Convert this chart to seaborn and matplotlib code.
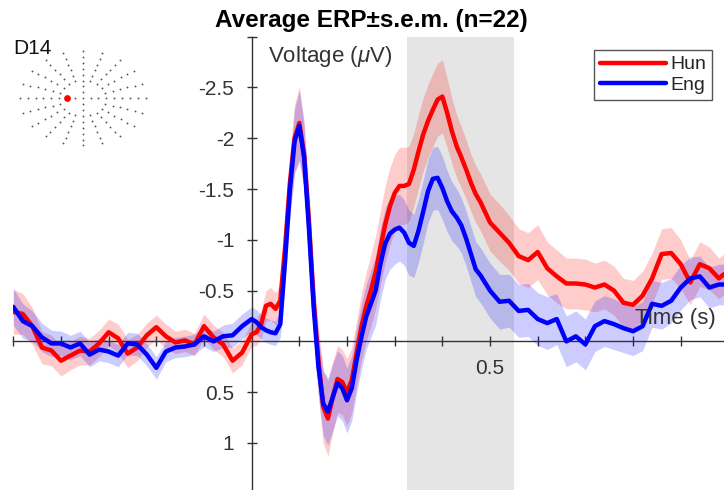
import matplotlib
matplotlib.use("Agg")
import matplotlib.pyplot as plt
from matplotlib.lines import Line2D
import numpy as np
import pandas as pd
import seaborn as sns

# ---- data (time in s, voltage in uV) ----
time_s = [
    -0.50, -0.48, -0.46, -0.44, -0.42, -0.40, -0.38, -0.36, -0.34, -0.32,
    -0.30, -0.28, -0.26, -0.24, -0.22, -0.20, -0.18, -0.16, -0.14, -0.12,
    -0.10, -0.08, -0.06, -0.04, -0.02, 0.00,
    0.01, 0.02, 0.03, 0.04, 0.05, 0.06, 0.07, 0.08, 0.09, 0.10,
    0.11, 0.12, 0.13, 0.14, 0.15, 0.16, 0.17, 0.18, 0.19, 0.20,
    0.21, 0.22, 0.23, 0.24, 0.25, 0.26, 0.27, 0.28, 0.29, 0.30,
    0.31, 0.32, 0.33, 0.34, 0.35, 0.36, 0.37, 0.38, 0.39, 0.40,
    0.41, 0.42, 0.43, 0.44, 0.45, 0.46, 0.47, 0.48,
    0.50, 0.52, 0.54, 0.56, 0.58, 0.60, 0.62, 0.64, 0.66, 0.68,
    0.70, 0.72, 0.74, 0.76, 0.78, 0.80, 0.82, 0.84, 0.86, 0.88,
    0.90, 0.92, 0.94, 0.96, 0.98, 0.99,
]

hun_mean = [
    -0.29, -0.27, -0.15, 0.06, 0.09, 0.19, 0.14, 0.09, 0.10, 0.02,
    -0.09, -0.03, 0.12, 0.06, -0.06, -0.14, -0.05, 0.01, -0.01, 0.03,
    -0.15, -0.04, 0.03, 0.19, 0.11, -0.07,
    -0.09, -0.17, -0.35, -0.37, -0.32, -0.40, -0.92, -1.55, -2.00, -2.15,
    -1.84, -1.19, -0.40, 0.19, 0.64, 0.76, 0.55, 0.37, 0.40, 0.50,
    0.38, 0.12, -0.14, -0.34, -0.50, -0.68, -0.92, -1.15, -1.33, -1.46,
    -1.53, -1.53, -1.55, -1.69, -1.87, -2.04, -2.17, -2.28, -2.38, -2.41,
    -2.25, -2.07, -1.92, -1.81, -1.69, -1.56, -1.45, -1.37,
    -1.17, -1.07, -0.97, -0.84, -0.80, -0.88, -0.72, -0.64, -0.57, -0.57,
    -0.56, -0.53, -0.56, -0.50, -0.38, -0.36, -0.45, -0.62, -0.86, -0.87,
    -0.76, -0.58, -0.76, -0.72, -0.62, -0.66,
]

eng_mean = [
    -0.34, -0.20, -0.15, -0.04, 0.02, 0.02, 0.06, 0.02, 0.13, 0.08,
    0.10, 0.14, 0.02, 0.03, 0.13, 0.26, 0.10, 0.06, 0.05, 0.03,
    -0.05, 0.00, -0.05, -0.06, -0.15, -0.22,
    -0.19, -0.14, -0.11, -0.09, -0.08, -0.17, -0.79, -1.48, -1.97, -2.12,
    -1.81, -1.12, -0.34, 0.25, 0.61, 0.69, 0.55, 0.41, 0.46, 0.58,
    0.46, 0.19, -0.04, -0.24, -0.37, -0.50, -0.76, -0.96, -1.06, -1.10,
    -1.12, -1.07, -0.97, -0.94, -1.09, -1.28, -1.48, -1.60, -1.61, -1.51,
    -1.38, -1.28, -1.22, -1.14, -1.01, -0.86, -0.71, -0.65,
    -0.50, -0.39, -0.40, -0.30, -0.31, -0.22, -0.18, -0.22, 0.00, -0.05,
    0.03, -0.15, -0.20, -0.17, -0.13, -0.10, -0.15, -0.37, -0.35, -0.40,
    -0.53, -0.62, -0.64, -0.53, -0.56, -0.56,
]

hun_sem = [
    0.22, 0.20, 0.18, 0.16, 0.15, 0.15, 0.14, 0.14, 0.13, 0.13,
    0.13, 0.14, 0.14, 0.13, 0.12, 0.12, 0.12, 0.11, 0.11, 0.11,
    0.12, 0.12, 0.12, 0.12, 0.12, 0.12,
    0.13, 0.14, 0.15, 0.16, 0.16, 0.17, 0.25, 0.30, 0.33, 0.36,
    0.33, 0.30, 0.30, 0.33, 0.36, 0.37, 0.35, 0.33, 0.32, 0.33,
    0.32, 0.32, 0.33, 0.34, 0.35, 0.36, 0.37, 0.38, 0.38, 0.38,
    0.38, 0.38, 0.37, 0.36, 0.36, 0.36, 0.36, 0.36, 0.36, 0.36,
    0.34, 0.32, 0.31, 0.30, 0.29, 0.28, 0.28, 0.28,
    0.28, 0.28, 0.27, 0.27, 0.27, 0.27, 0.26, 0.26, 0.25, 0.25,
    0.25, 0.24, 0.24, 0.24, 0.24, 0.24, 0.24, 0.25, 0.25, 0.25,
    0.24, 0.22, 0.22, 0.21, 0.20, 0.20,
]

eng_sem = [
    0.18, 0.17, 0.15, 0.14, 0.13, 0.12, 0.12, 0.12, 0.12, 0.11,
    0.11, 0.11, 0.11, 0.11, 0.11, 0.11, 0.10, 0.10, 0.10, 0.10,
    0.10, 0.10, 0.11, 0.12, 0.12, 0.12,
    0.12, 0.12, 0.12, 0.12, 0.12, 0.13, 0.22, 0.28, 0.32, 0.35,
    0.32, 0.28, 0.28, 0.30, 0.32, 0.33, 0.33, 0.32, 0.32, 0.32,
    0.32, 0.32, 0.32, 0.32, 0.33, 0.34, 0.35, 0.35, 0.35, 0.34,
    0.33, 0.32, 0.32, 0.31, 0.31, 0.31, 0.31, 0.31, 0.31, 0.31,
    0.30, 0.29, 0.28, 0.27, 0.27, 0.27, 0.27, 0.27,
    0.27, 0.27, 0.26, 0.26, 0.26, 0.26, 0.26, 0.25, 0.25, 0.25,
    0.25, 0.25, 0.25, 0.25, 0.24, 0.24, 0.24, 0.23, 0.23, 0.22,
    0.22, 0.21, 0.20, 0.20, 0.20, 0.20,
]

conditions = ["Hun", "Eng"]
window_s = [0.326, 0.550]  # shaded analysis window

# electrode montage (schematic): spoke angles, ring steps, first ring per spoke
spoke_angles = [0, 18, 36, 54, 72, 90, 108, 126, 144, 162,
                180, 198, 216, 234, 252, 270, 288, 306, 324, 342]
cardinal_angles = [0, 90, 180, 270]
ring_steps = [1, 2, 3, 4, 5, 6, 7, 8]
chosen_angle, chosen_ring = 180, 2

colors = {"Hun": "#ff0000", "Eng": "#0000ff"}
W, H = 724, 490


def main() -> None:
    sns.set_theme(style="white")
    plt.rcParams["font.family"] = ["Liberation Sans", "DejaVu Sans"]
    plt.rcParams["mathtext.fontset"] = "custom"
    plt.rcParams["mathtext.it"] = "Liberation Sans:italic"

    df = pd.concat([
        pd.DataFrame({"time": time_s, "voltage": hun_mean, "sem": hun_sem, "lang": "Hun"}),
        pd.DataFrame({"time": time_s, "voltage": eng_mean, "sem": eng_sem, "lang": "Eng"}),
    ])

    fig = plt.figure(figsize=(W / 100, H / 100), dpi=100)
    ax_top = 36.6
    ax = fig.add_axes([13.3 / W, 0, 1 - 13.3 / W, 1 - ax_top / H])

    ax.axvspan(window_s[0], window_s[1], color="#e5e5e5", lw=0, zorder=0)

    for lang in conditions:
        sub = df[df["lang"] == lang]
        ax.fill_between(sub["time"], sub["voltage"] - sub["sem"], sub["voltage"] + sub["sem"],
                        color=colors[lang], alpha=0.2, lw=0, zorder=1)

    sns.lineplot(data=df, x="time", y="voltage", hue="lang", hue_order=conditions,
                 palette=colors, lw=3.2, estimator=None, sort=False, legend=False, ax=ax,
                 zorder=3)

    ax.set_xlim(-0.5, (W - 251.7) / 476.7)
    ax.set_ylim((H - 341.4) / 101.6, -3.0)

    ax.spines["left"].set_position(("data", 0))
    ax.spines["bottom"].set_position(("data", 0))
    for s in ["top", "right"]:
        ax.spines[s].set_visible(False)
    for s in ["left", "bottom"]:
        ax.spines[s].set_color("#333333")
        ax.spines[s].set_linewidth(1.0)

    xt = [-0.5, -0.4, -0.3, -0.2, -0.1, 0.1, 0.2, 0.3, 0.4, 0.5, 0.6, 0.7, 0.8, 0.9]
    ax.set_xticks(xt)
    ax.set_xticklabels(["0.5" if abs(v - 0.5) < 1e-9 else "" for v in xt])
    yt = [-3, -2.5, -2, -1.5, -1, -0.5, 0.5, 1]
    ax.set_yticks(yt)
    ax.set_yticklabels(["", "-2.5", "-2", "-1.5", "-1", "-0.5", "0.5", "1"])
    ax.tick_params(axis="both", direction="inout", length=7, width=1, color="#333333",
                   labelsize=15, labelcolor="#333333", left=True, bottom=True)
    ax.tick_params(axis="x", pad=9)
    ax.tick_params(axis="y", pad=9)
    ax.set_xlabel("")
    ax.set_ylabel("")

    ax.text(0.034, -2.80, r"Voltage ($\mu$V)", fontsize=16, color="#333333",
            ha="left", va="center")
    ax.text(0.804, -0.23, "Time (s)", fontsize=16, color="#333333",
            ha="left", va="center")

    fig.text(371 / W, 1 - 20 / H, "Average ERP\u00b1s.e.m. (n=22)", fontsize=17.5,
             fontweight="bold", ha="center", va="center", color="black")

    handles = [Line2D([], [], color=colors[c], lw=3.2) for c in conditions]
    leg = ax.legend(handles, conditions, loc="upper right",
                    bbox_to_anchor=(712 / W, 1 - 50 / H), bbox_transform=fig.transFigure,
                    borderaxespad=0, fontsize=14, handlelength=3.4, handletextpad=0.2,
                    labelspacing=0.15, borderpad=0.3, fancybox=False, framealpha=1)
    leg.get_frame().set_edgecolor("#555555")
    leg.get_frame().set_linewidth(1.0)

    # electrode montage inset
    fig.text(13 / W, 1 - 49 / H, "D14", fontsize=15, ha="left", va="center", color="#111111")
    half_w, half_h = 8.6 * 7.85, 8.6 * 5.9
    cx, cy = 82.7, 98.3
    ins = fig.add_axes([(cx - half_w) / W, 1 - (cy + half_h) / H, 2 * half_w / W, 2 * half_h / H])
    ins.set_xlim(-8.6, 8.6)
    ins.set_ylim(-8.6, 8.6)
    ins.axis("off")
    ex, ey = [0.0], [0.0]
    for a in spoke_angles:
        first = 1 if a in cardinal_angles else 3
        for r in ring_steps:
            if r < first or (a == chosen_angle and r == chosen_ring):
                continue
            ex.append(r * np.cos(np.radians(a)))
            ey.append(r * np.sin(np.radians(a)))
    ins.scatter(ex, ey, s=1.8, color="#555555", lw=0)
    ins.scatter([chosen_ring * np.cos(np.radians(chosen_angle))],
                [chosen_ring * np.sin(np.radians(chosen_angle))], s=24, color="#ff0000", lw=0)

    fig.savefig("out.png", dpi=100)
    plt.close(fig)


if __name__ == "__main__":
    main()
